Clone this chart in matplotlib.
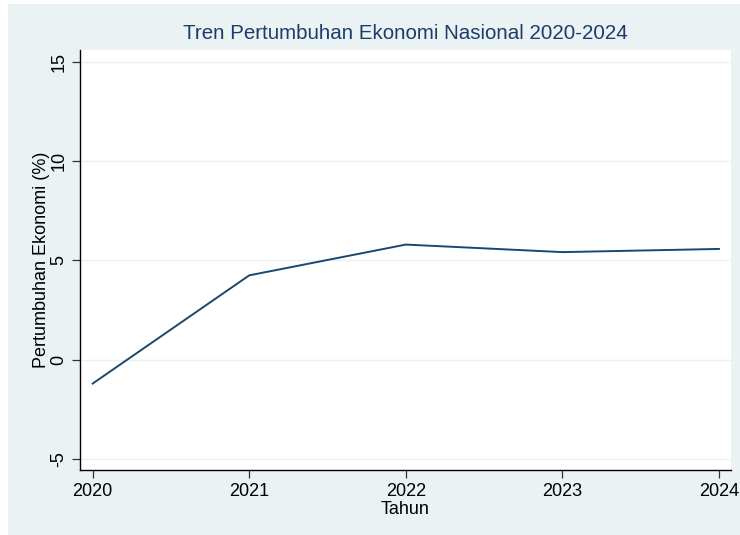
import matplotlib
matplotlib.use("Agg")
import matplotlib.pyplot as plt
from matplotlib.patches import Rectangle

years = [2020, 2021, 2022, 2023, 2024]
growth = [-1.2, 4.25, 5.8, 5.42, 5.58]
yticks = [-5, 0, 5, 10, 15]
title = "Tren Pertumbuhan Ekonomi Nasional 2020-2024"
xlabel = "Tahun"
ylabel = "Pertumbuhan Ekonomi (%)"

plt.rcParams['font.family'] = ['Liberation Sans', 'DejaVu Sans']

W, H = 740, 535
fig = plt.figure(figsize=(W / 100, H / 100), dpi=100, facecolor='white')
bg = '#EAF2F3'
fig.patches.append(Rectangle((8 / W, 0), 1 - 8 / W, (H - 4) / H,
                             transform=fig.transFigure, facecolor=bg,
                             edgecolor='none', zorder=-10))

ax = fig.add_axes([80 / W, (H - 470) / H, (731 - 80) / W, (470 - 50) / H])
ax.set_zorder(1)
ax.set_facecolor('white')
ax.plot(years, growth, color='#1a476f', lw=1.4, zorder=3)

ax.set_xlim(2019.919, 2024.077)
ax.set_ylim(-5.554, 15.6)
ax.set_xticks(years)
ax.set_xticklabels([str(y) for y in years], fontsize=13)
ax.set_yticks(yticks)
ax.set_yticklabels([str(v) for v in yticks], fontsize=13, rotation=90, va='center')
for v in yticks:
    ax.axhline(v, color='#EAF2F3', lw=1.0, zorder=1)

ax.tick_params(axis='both', direction='out', length=6, width=0.9, color='#333333', pad=3)
for s in ['top', 'right']:
    ax.spines[s].set_visible(False)
for s in ['left', 'bottom']:
    ax.spines[s].set_linewidth(1.0)
    ax.spines[s].set_color('black')

ax.set_title(title, fontsize=14.8, color='#1c3d6b', pad=8)
ax.set_xlabel(xlabel, fontsize=13, labelpad=1)
ax.set_ylabel(ylabel, fontsize=13, labelpad=0)

fig.savefig('out.png', dpi=100, facecolor=fig.get_facecolor())
